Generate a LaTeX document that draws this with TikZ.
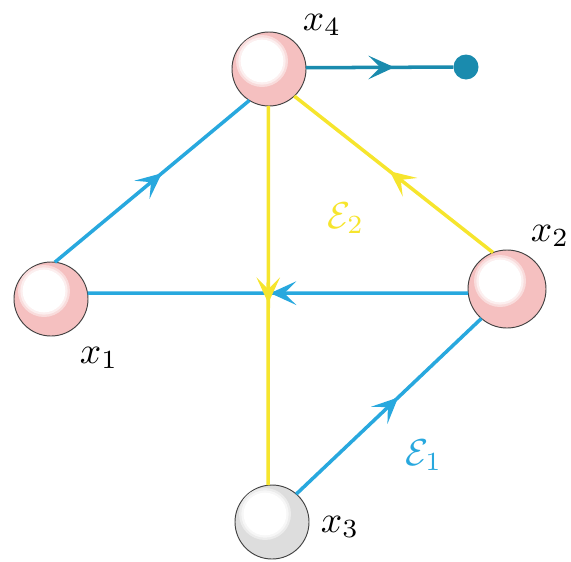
\documentclass[tikz,border=0pt]{standalone}
\usetikzlibrary{arrows.meta,decorations.markings}
\definecolor{cblue}{RGB}{40,168,222}
\definecolor{cteal}{RGB}{26,139,174}
\definecolor{cyel}{RGB}{246,229,45}
\definecolor{cpink}{RGB}{245,192,192}
\definecolor{cgray}{RGB}{221,221,221}
\newcommand{\myhl}[2]{%
  \fill[#2!55!white] ([shift={(-7,-8)}]#1.center) circle (0.78cm);
  \fill[#2!25!white] ([shift={(-7,-8)}]#1.center) circle (0.71cm);
  \fill[white] ([shift={(-7,-8)}]#1.center) circle (0.64cm);
}
\tikzset{
  ball/.style={circle, draw=black!75, line width=0.8pt, inner sep=0pt, outer sep=0pt, fill=cpink},
  grayball/.style={ball, fill=cgray},
  conn/.style={line width=3pt},
  midarrow/.style={postaction={decorate}, decoration={markings, mark=at position #1 with {\arrow{Stealth[length=22pt,width=20pt,inset=10pt]}}}},
  lab/.style={scale=3.2, inner sep=0pt},
  enddot/.style={circle, fill=cteal, inner sep=0pt, minimum size=0.75cm}
}
\begin{document}
\begin{tikzpicture}[x=0.03cm, y=-0.03cm]
\path[use as bounding box] (0,0) rectangle (571,561);
% nodes
\node[ball, minimum size=2.22cm] (x4) at (269,69) {};
\node[ball, minimum size=2.22cm] (x1) at (51,299) {};
\node[ball, minimum size=2.34cm] (x2) at (507,289) {};
\node[grayball, minimum size=2.22cm] (x3) at (272,522) {};
\node[enddot] (d) at (466,67) {};
\myhl{x4}{cpink}
\myhl{x1}{cpink}
\myhl{x2}{cpink}
\myhl{x3}{cgray}
% blue edges
\draw[conn, cblue, midarrow=0.55] (x1.84) -- (x4.238);
\draw[conn, cblue, midarrow=0.52] (x2.186) -- (x1.9);
\draw[conn, cblue, midarrow=0.55] (x3.49) -- (x2.229);
\draw[conn, cteal, midarrow=0.6] (x4.2) -- (d);
% yellow edges
\draw[conn, cyel, midarrow=0.52] (x2.111) -- (x4.-47);
\draw[conn, cyel, midarrow=0.52] (x4.-91) -- (x3.96);
% labels
\node[lab] (l4) at (322,25) {$x_4$};
\node[lab] (l2) at (550,236) {$x_2$};
\node[lab] (l1) at (99,358) {$x_1$};
\node[lab] (l3) at (340,527) {$x_3$};
\node[lab, text=cyel] (e2) at (346,218) {$\mathcal{E}_2$};
\node[lab, text=cblue] (e1) at (424,455) {$\mathcal{E}_1$};
\end{tikzpicture}
\end{document}
